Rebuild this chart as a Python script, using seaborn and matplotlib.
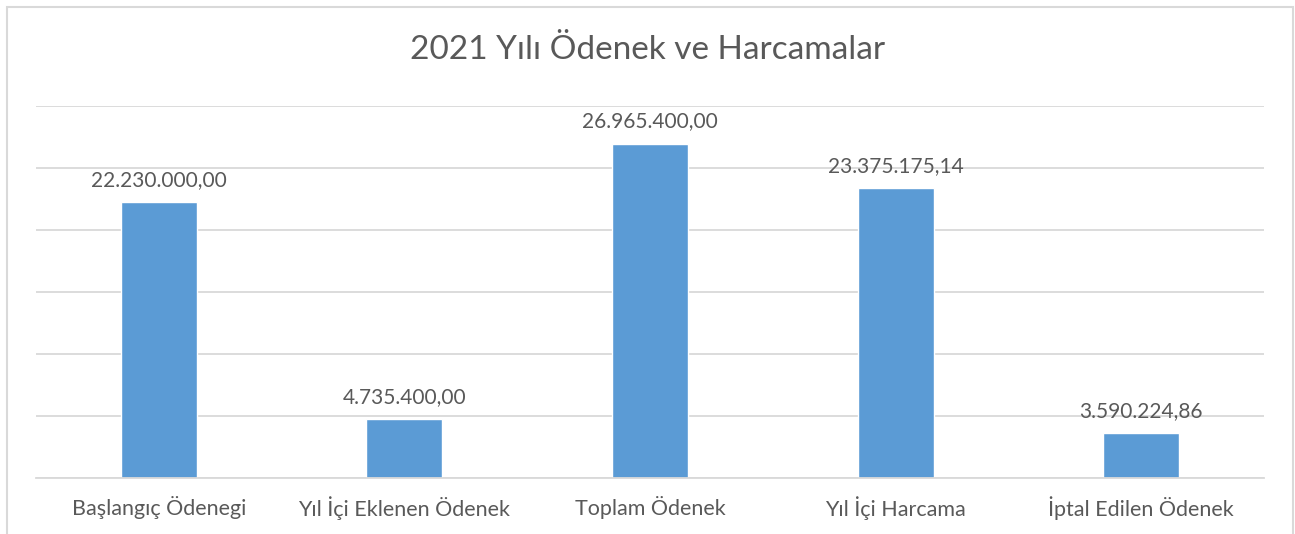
import numpy as np
import pandas as pd
import matplotlib
matplotlib.use('Agg')
import matplotlib.pyplot as plt
import seaborn as sns
from matplotlib.patches import Rectangle

categories = ['Başlangıç Ödenegi', 'Yıl İçi Eklenen Ödenek', 'Toplam Ödenek',
              'Yıl İçi Harcama', 'İptal Edilen Ödenek']
values = [22230000.00, 4735400.00, 26965400.00, 23375175.14, 3590224.86]
value_labels = ['22.230.000,00', '4.735.400,00', '26.965.400,00',
                '23.375.175,14', '3.590.224,86']
title = '2021 Yılı Ödenek ve Harcamalar'

sns.set_style('white')
plt.rcParams['font.family'] = ['Lato', 'DejaVu Sans']

TEXT = '#595959'
GRID = '#d9d9d9'
BAR = '#5B9BD5'

W, H = 1295, 534
fig = plt.figure(figsize=(W / 100, H / 100), dpi=100)
ax = fig.add_axes([36 / W, 1 - 478 / H, (1264 - 36) / W, (478 - 106) / H])

df = pd.DataFrame({'cat': categories, 'val': values})
sns.barplot(data=df, x='cat', y='val', color=BAR, width=0.31, saturation=1, ax=ax)

ax.set_ylim(0, 30000000)
ax.set_xlim(-0.5, len(categories) - 0.5)
ax.set_yticks(np.arange(0, 30000001, 5000000))
ax.yaxis.grid(True, color=GRID, linewidth=1.3)
ax.set_axisbelow(True)
ax.tick_params(axis='y', left=False, labelleft=False)
ax.tick_params(axis='x', which='major', length=0, labelsize=15.5, colors=TEXT, pad=13)
ax.set_xticks(np.arange(-0.5, len(categories)), minor=True)
ax.tick_params(axis='x', which='minor', length=7, width=1.3, color=GRID)
ax.set_xlabel('')
ax.set_ylabel('')
for s in ['top', 'right', 'left']:
    ax.spines[s].set_visible(False)
ax.spines['bottom'].set_color(GRID)
ax.spines['bottom'].set_linewidth(1.3)

for i, (v, lab) in enumerate(zip(values, value_labels)):
    ax.annotate(lab, (i, v), xytext=(0, 9), textcoords='offset points',
                ha='center', va='bottom', fontsize=15, color=TEXT)

fig.text(0.5, 1 - 50 / H, title, ha='center', va='center', fontsize=24, color=TEXT)

fig.patches.append(Rectangle((7 / W, -0.05), (1293 - 7) / W, 1 - 7 / H + 0.05,
                             transform=fig.transFigure, fill=False,
                             edgecolor=GRID, linewidth=1.5))

fig.savefig('out.png', dpi=100)
